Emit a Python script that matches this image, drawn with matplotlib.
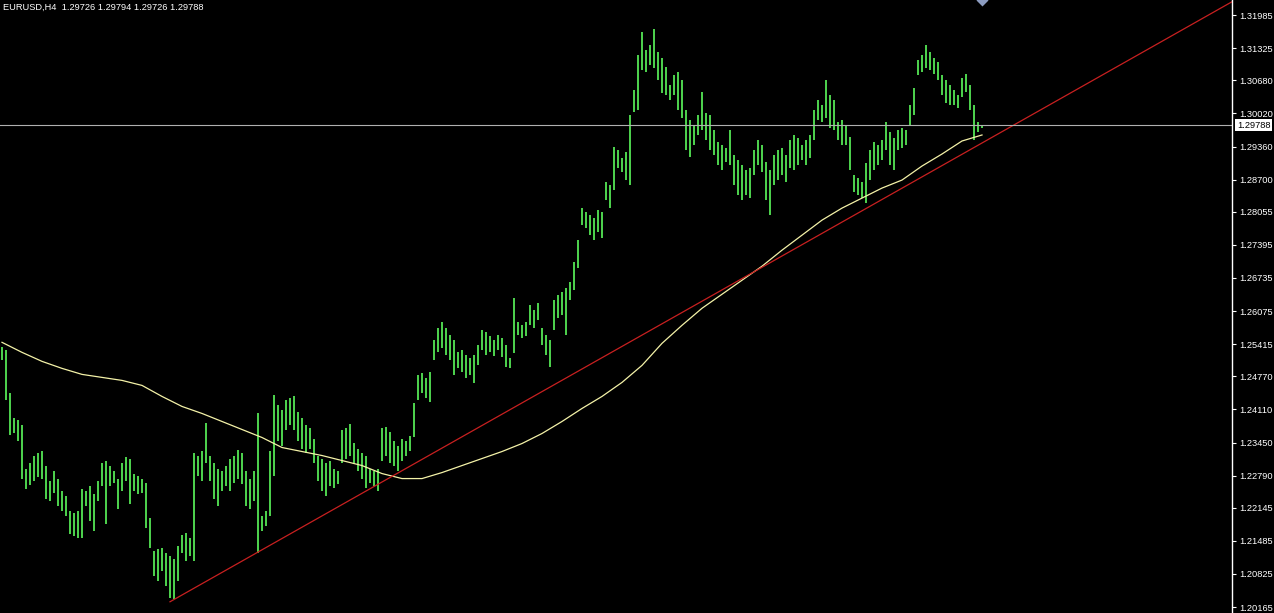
import matplotlib
matplotlib.use("Agg")
import matplotlib.pyplot as plt

# ---------------- data ----------------
symbol = "EURUSD,H4"
last_ohlc = [1.29726, 1.29794, 1.29726, 1.29788]

high = [
    1.2535, 1.2529, 1.2443, 1.2393, 1.2389, 1.2379, 1.2293, 1.2305, 1.2319, 1.2325,
    1.2329, 1.2299, 1.2269, 1.2289, 1.2273, 1.2249, 1.2239, 1.2209, 1.2205, 1.2209,
    1.2253, 1.2249, 1.2259, 1.2243, 1.2269, 1.2305, 1.2309, 1.2299, 1.2289, 1.2273,
    1.2305, 1.2317, 1.2313, 1.2283, 1.2279, 1.2273, 1.2265, 1.2195, 1.2129, 1.2133,
    1.2135, 1.2125, 1.2119, 1.2113, 1.2139, 1.2161, 1.2165, 1.2155, 1.2325, 1.2319,
    1.2329, 1.2383, 1.2319, 1.2305, 1.2293, 1.2289, 1.2299, 1.2313, 1.2319, 1.2331,
    1.2325, 1.2289, 1.2273, 1.2289, 1.2403, 1.2199, 1.2209, 1.2329, 1.2439, 1.2419,
    1.2409, 1.2429, 1.2433, 1.2437, 1.2405, 1.2393, 1.2379, 1.2373, 1.2353, 1.2319,
    1.2313, 1.2305, 1.2309, 1.2293, 1.2289, 1.2369, 1.2373, 1.2381, 1.2345, 1.2333,
    1.2325, 1.2319, 1.2293, 1.2289, 1.2293, 1.2373, 1.2375, 1.2365, 1.2349, 1.2339,
    1.2353, 1.2349, 1.2357, 1.2423, 1.2479, 1.2483, 1.2473, 1.2485, 1.2549, 1.2573,
    1.2585, 1.2573, 1.2559, 1.2549, 1.2525, 1.2529, 1.2519, 1.2513, 1.2519, 1.2539,
    1.2569, 1.2565, 1.2557, 1.2549, 1.2559, 1.2553, 1.2539, 1.2513, 1.2633, 1.2585,
    1.2579, 1.2585, 1.2619, 1.2609, 1.2623, 1.2573, 1.2559, 1.2549, 1.2629, 1.2639,
    1.2645, 1.2653, 1.2665, 1.2705, 1.2749, 1.2813, 1.2805, 1.2799, 1.2793, 1.2809,
    1.2805, 1.2865, 1.2859, 1.2935, 1.2929, 1.2913, 1.2925, 1.2999, 1.3049, 1.3119,
    1.3165, 1.3129, 1.3139, 1.3171, 1.3125, 1.3113, 1.3095, 1.3059, 1.3079, 1.3085,
    1.3069, 1.3009, 1.2989, 1.2979, 1.2999, 1.3045, 1.3003, 1.2999, 1.2969, 1.2945,
    1.2939, 1.2933, 1.2969, 1.2919, 1.2909, 1.2899, 1.2889, 1.2893, 1.2929, 1.2949,
    1.2939, 1.2905, 1.2889, 1.2919, 1.2929, 1.2933, 1.2919, 1.2949, 1.2959, 1.2953,
    1.2939, 1.2949, 1.2959, 1.3009, 1.3029, 1.3019, 1.3069, 1.3039, 1.3029, 1.2985,
    1.2989, 1.2979, 1.2955, 1.2879, 1.2873, 1.2865, 1.2903, 1.2929, 1.2945, 1.2939,
    1.2949, 1.2985, 1.2965, 1.2953, 1.2969, 1.2973, 1.2969, 1.3019, 1.3053, 1.3109,
    1.3119, 1.3139, 1.3125, 1.3113, 1.3105, 1.3079, 1.3069, 1.3059, 1.3049, 1.3039,
    1.3073, 1.3081, 1.3059, 1.3019, 1.2985, 1.29794,
]

low = [
    1.2509, 1.2429, 1.2359, 1.2363, 1.2349, 1.2273, 1.2253, 1.2261, 1.2269, 1.2277,
    1.2273, 1.2233, 1.2229, 1.2245, 1.2219, 1.2209, 1.2199, 1.2163, 1.2159, 1.2155,
    1.2155, 1.2219, 1.2189, 1.2169, 1.2229, 1.2259, 1.2183, 1.2259, 1.2265, 1.2213,
    1.2249, 1.2269, 1.2223, 1.2249, 1.2243, 1.2245, 1.2175, 1.2135, 1.2079, 1.2069,
    1.2089, 1.2059, 1.2035, 1.2033, 1.2069, 1.2125, 1.2109, 1.2119, 1.2109, 1.2279,
    1.2269, 1.2305, 1.2269, 1.2233, 1.2219, 1.2249, 1.2259, 1.2249, 1.2265, 1.2273,
    1.2263, 1.2219, 1.2213, 1.2229, 1.2125, 1.2169, 1.2179, 1.2199, 1.2279, 1.2349,
    1.2339, 1.2369, 1.2379, 1.2369, 1.2349, 1.2333, 1.2325, 1.2333, 1.2305, 1.2269,
    1.2249, 1.2239, 1.2259, 1.2255, 1.2263, 1.2305, 1.2313, 1.2319, 1.2305, 1.2289,
    1.2273, 1.2255, 1.2265, 1.2259, 1.2249, 1.2309, 1.2319, 1.2305, 1.2299, 1.2289,
    1.2309, 1.2319, 1.2329, 1.2355, 1.2429, 1.2443, 1.2433, 1.2425, 1.2509, 1.2525,
    1.2533, 1.2519, 1.2509, 1.2479, 1.2493, 1.2485, 1.2473, 1.2479, 1.2463, 1.2499,
    1.2529, 1.2519, 1.2525, 1.2517, 1.2529, 1.2515, 1.2495, 1.2493, 1.2523, 1.2559,
    1.2553, 1.2557, 1.2579, 1.2573, 1.2589, 1.2539, 1.2519, 1.2495, 1.2569, 1.2593,
    1.2599, 1.2559, 1.2629, 1.2649, 1.2693, 1.2779, 1.2773, 1.2759, 1.2749, 1.2765,
    1.2753, 1.2829, 1.2813, 1.2849, 1.2893, 1.2885, 1.2869, 1.2859, 1.3005, 1.3009,
    1.3089, 1.3085, 1.3099, 1.3093, 1.3069, 1.3043, 1.3039, 1.3029, 1.3039, 1.3009,
    1.2993, 1.2929, 1.2915, 1.2939, 1.2959, 1.2969, 1.2949, 1.2929, 1.2919, 1.2899,
    1.2889, 1.2905, 1.2899, 1.2859, 1.2839, 1.2829, 1.2839, 1.2833, 1.2879, 1.2899,
    1.2885, 1.2829, 1.2799, 1.2859, 1.2869, 1.2879, 1.2865, 1.2893, 1.2889, 1.2899,
    1.2909, 1.2899, 1.2913, 1.2949, 1.2989, 1.2985, 1.2993, 1.2973, 1.2969, 1.2949,
    1.2939, 1.2939, 1.2889, 1.2845, 1.2839, 1.2833, 1.2823, 1.2869, 1.2889, 1.2899,
    1.2909, 1.2929, 1.2899, 1.2889, 1.2929, 1.2933, 1.2939, 1.2979, 1.2999, 1.3079,
    1.3085, 1.3093, 1.3089, 1.3081, 1.3069, 1.3039, 1.3023, 1.3019, 1.3019, 1.3013,
    1.3035, 1.3045, 1.3009, 1.2949, 1.2965, 1.29726,
]

# moving average, one value every 5 bars
ma_step = 5
ma_values = [
    1.2545, 1.2525, 1.2507, 1.2493, 1.2481, 1.2475, 1.2469, 1.2459, 1.2437, 1.2417,
    1.2403, 1.2387, 1.2371, 1.2355, 1.2335, 1.2327, 1.2319, 1.2309, 1.2299, 1.2283,
    1.2273, 1.2273, 1.2285, 1.2299, 1.2313, 1.2327, 1.2343, 1.2363, 1.2387, 1.2413,
    1.2437, 1.2465, 1.2499, 1.2543, 1.2579, 1.2613, 1.2641, 1.2669, 1.2697, 1.2729,
    1.2759, 1.2789, 1.2813, 1.2833, 1.2853, 1.2869, 1.2897, 1.2921, 1.2947, 1.2959,
]

# trend line anchors (bar index, price)
trend_bars = [42, 245]
trend_prices = [1.2027, 1.2943]

price_ticks = [1.31985, 1.31325, 1.30680, 1.30020, 1.29360, 1.28700, 1.28055,
               1.27395, 1.26735, 1.26075, 1.25415, 1.24770, 1.24110, 1.23450,
               1.22790, 1.22145, 1.21485, 1.20825, 1.20165]

# ---------------- figure ----------------
W, H = 1274, 613
fig = plt.figure(figsize=(W / 100, H / 100), dpi=100, facecolor="black")
ax = fig.add_axes([0, 0, 1232 / W, 1], facecolor="black")

n = len(high)
idx = list(range(n))
x_left, x_right = -0.5, 307.5
ax.set_xlim(x_left, x_right)
ax.set_ylim(1.20046, 1.32285)

# price bars
ax.vlines(idx, low, high, colors="#4ccf4c", linewidth=1.3, antialiased=False)

# moving average
ma_x = [i * ma_step for i in range(len(ma_values))]
ax.plot(ma_x, ma_values, color="#f4f2a8", linewidth=0.9)

# trend line (ray to the right)
slope = (trend_prices[1] - trend_prices[0]) / (trend_bars[1] - trend_bars[0])
ray_end = trend_prices[0] + slope * (x_right - trend_bars[0])
ax.plot([trend_bars[0], x_right], [trend_prices[0], ray_end],
        color="#c82020", linewidth=0.9)

# bid line
ax.axhline(last_ohlc[3], color="#b0b0b0", linewidth=0.8)

# chart shift marker at the top
ax.plot([n - 1], [1.32285], marker="D", markersize=6, color="#8c9cc0",
        markeredgecolor="none", clip_on=True)

# axis styling
for side in ["left", "top", "bottom"]:
    ax.spines[side].set_visible(False)
ax.spines["right"].set_color("white")
ax.spines["right"].set_linewidth(1)
ax.set_xticks([])
ax.yaxis.tick_right()
ax.set_yticks(price_ticks)
ax.set_yticklabels([f"{p:.5f}" for p in price_ticks])
ax.tick_params(axis="y", colors="white", labelcolor="white", length=3,
               width=0.8, pad=2, labelsize=6.7)
for lbl in ax.get_yticklabels():
    lbl.set_family("Liberation Sans")

# current price box
ax.annotate(f"{last_ohlc[3]:.5f}", xy=(1, last_ohlc[3]),
            xycoords=ax.get_yaxis_transform(), xytext=(5, 0),
            textcoords="offset pixels", va="center", ha="left",
            fontsize=6.7, family="Liberation Sans", color="black",
            bbox=dict(boxstyle="square,pad=0.2", fc="white", ec="none"),
            annotation_clip=False)

# header text
header = symbol + "  " + " ".join(f"{v:.5f}" for v in last_ohlc)
fig.text(3 / W, 1 - 3 / H, header, ha="left", va="top", color="white",
         fontsize=6.7, family="Liberation Sans")

fig.savefig("out.png", dpi=100, facecolor="black")
